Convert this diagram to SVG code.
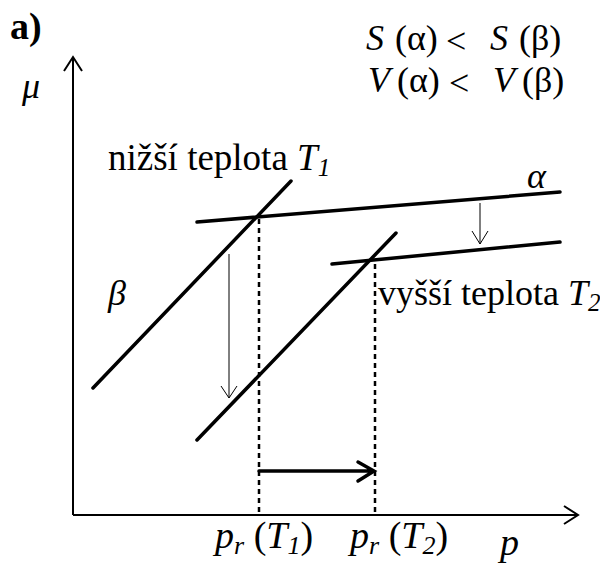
<svg xmlns="http://www.w3.org/2000/svg" width="600" height="566" viewBox="0 0 600 566">
<defs>
<style>
.it{font-style:italic}
.thick{stroke:#000;stroke-width:3.5;stroke-linecap:round;fill:none}
.axis{stroke:#000;stroke-width:2;fill:none}
.thin{stroke:#000;stroke-width:1;fill:none}
.dot{stroke:#000;stroke-width:2.5;stroke-dasharray:5 4;fill:none}
</style>
</defs>
<rect width="600" height="566" fill="#fff"/>
<g font-family="Liberation Serif, Times New Roman, serif" fill="#000">
<g id="labels">
<text x="10" y="39" font-size="38" font-weight="bold">a)</text>
<text x="22" y="98" font-size="36" class="it">μ</text>
<text y="50" font-size="36"><tspan x="366" class="it">S</tspan><tspan x="395">(α)</tspan><tspan x="446" dy="3">&lt;</tspan><tspan x="490" class="it" dy="-3">S</tspan><tspan x="519">(β)</tspan></text>
<text y="92" font-size="36"><tspan x="368" class="it">V</tspan><tspan x="397">(α)</tspan><tspan x="449" dy="3">&lt;</tspan><tspan x="493" class="it" dy="-3">V</tspan><tspan x="522">(β)</tspan></text>
</g>
<g id="axes">
<path class="axis" d="M73,515 V57 M64,71 L73,57 L82,71"/>
<path class="axis" d="M73,515 H577 M564,506 L578,515 L564,524"/>
<text x="500" y="555" font-size="38" class="it">p</text>
</g>
<g id="alpha">
<path class="thick" d="M197,222 L560,192"/>
<path class="thick" d="M332,264 L560,242"/>
<text x="527" y="188" font-size="36" class="it">α</text>
</g>
<g id="beta">
<path class="thick" d="M93,388 L291,181"/>
<path class="thick" d="M197,440 L396,233"/>
<text x="108" y="305" font-size="36" class="it">β</text>
</g>
<g id="T1label"><text x="108" y="170" font-size="37">nižší teplota <tspan class="it">T</tspan><tspan class="it" font-size="25" dy="6">1</tspan></text></g>
<g id="T2label"><text x="378" y="305" font-size="36">vyšší teplota <tspan class="it">T</tspan><tspan class="it" font-size="25" dy="6">2</tspan></text></g>
<g id="connectors">
<path class="dot" d="M259,219 V515"/>
<path class="dot" d="M375,264 V515"/>
<path class="thin" d="M229,254 V398 M221,386 L229,398 L237,386"/>
<path class="thin" d="M480,203 V244 M472,231 L480,244 L488,231"/>
<path class="thick" d="M259,471 H374 M358,462 L374,471 L358,481"/>
</g>
<g id="prlabels">
<text x="215" y="548" font-size="38"><tspan class="it">p</tspan><tspan class="it" font-size="26" dy="6">r</tspan><tspan dy="-6"> (</tspan><tspan class="it">T</tspan><tspan class="it" font-size="26" dy="6">1</tspan><tspan dy="-6">)</tspan></text>
<text x="350" y="548" font-size="38"><tspan class="it">p</tspan><tspan class="it" font-size="26" dy="6">r</tspan><tspan dy="-6"> (</tspan><tspan class="it">T</tspan><tspan class="it" font-size="26" dy="6">2</tspan><tspan dy="-6">)</tspan></text>
</g>
</g>
</svg>
